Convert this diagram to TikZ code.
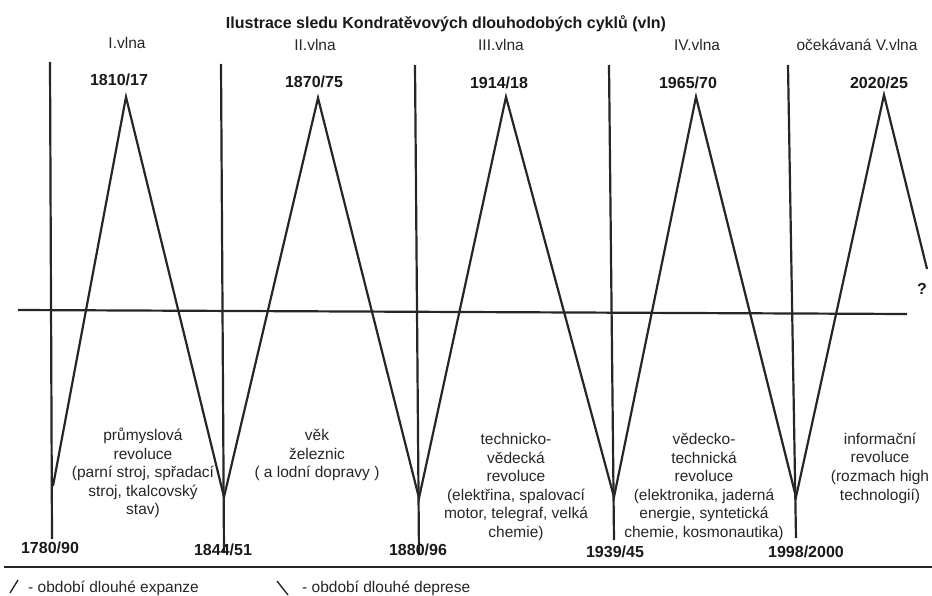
\documentclass[tikz,border=0pt]{standalone}
\usepackage{fontspec}
\setmainfont{Liberation Sans}
\begin{document}
\begin{tikzpicture}[x=1pt,y=-1pt,
    wline/.style={line width=2.2pt, black!85},
    revtext/.style={align=center, inner sep=0pt, text=black!85, font=\fontsize{15.5}{18.6}\selectfont},
    yeartext/.style={inner sep=0pt, text=black!90, font=\bfseries\fontsize{16}{19}\selectfont},
    wavetext/.style={inner sep=0pt, text=black!85, font=\fontsize{15.5}{18}\selectfont}]
    \useasboundingbox (0,0) rectangle (932,596);
    % Title
    \node[yeartext] (title) at (446,24) {Ilustrace sledu Kondratěvových dlouhodobých cyklů (vln)};
    % Turning points
    \coordinate (v1) at (53,486);
    \coordinate (p1) at (126,97);
    \coordinate (v2) at (224,497);
    \coordinate (p2) at (318,98);
    \coordinate (v3) at (419,498);
    \coordinate (p3) at (506,97);
    \coordinate (v4) at (614,497);
    \coordinate (p4) at (696,97);
    \coordinate (v5) at (796,497);
    \coordinate (p5) at (884,95);
    \coordinate (vend) at (927,269);
    % Zigzag
    \draw[wline] (v1) -- (p1) -- (v2) -- (p2) -- (v3) -- (p3) -- (v4) -- (p4) -- (v5) -- (p5) -- (vend);
    \node[yeartext] (qmark) at (922,289) {?};
    % Vertical dividers
    \coordinate (d1t) at (50,62);   \coordinate (d1b) at (52,539);
    \coordinate (d2t) at (221,64);  \coordinate (d2b) at (224,553);
    \coordinate (d3t) at (415,65);  \coordinate (d3b) at (419,555);
    \coordinate (d4t) at (609,65);  \coordinate (d4b) at (614,540);
    \coordinate (d5t) at (788,65);  \coordinate (d5b) at (796,538);
    \draw[wline] (d1t) -- (d1b);
    \draw[wline] (d2t) -- (d2b);
    \draw[wline] (d3t) -- (d3b);
    \draw[wline] (d4t) -- (d4b);
    \draw[wline] (d5t) -- (d5b);
    % Axis
    \coordinate (axl) at (18,310);
    \coordinate (axr) at (907,314);
    \draw[wline] (axl) -- (axr);
    % Wave names
    \node[wavetext] (w1) at (127,43) {I.vlna};
    \node[wavetext] (w2) at (315,45) {II.vlna};
    \node[wavetext] (w3) at (501,45) {III.vlna};
    \node[wavetext] (w4) at (697,45) {IV.vlna};
    \node[wavetext] (w5) at (857,45) {očekávaná V.vlna};
    % Peak years
    \node[yeartext] (y1) at (119,80) {1810/17};
    \node[yeartext] (y2) at (314,82) {1870/75};
    \node[yeartext] (y3) at (499,83) {1914/18};
    \node[yeartext] (y4) at (688,83) {1965/70};
    \node[yeartext] (y5) at (879,83) {2020/25};
    % Trough years
    \node[yeartext] (t1) at (50,548) {1780/90};
    \node[yeartext] (t2) at (223,550) {1844/51};
    \node[yeartext] (t3) at (418,550) {1880/96};
    \node[yeartext] (t4) at (615,552) {1939/45};
    \node[yeartext] (t5) at (806,552) {1998/2000};
    % Revolutions
    \node[revtext] (r1) at (143,473) {průmyslová\\revoluce\\(parní stroj, spřadací\\stroj, tkalcovský\\stav)};
    \node[revtext] (r2) at (317,455) {věk\\železnic\\( a lodní dopravy )};
    \node[revtext] (r3) at (516,487) {technicko-\\vědecká\\revoluce\\(elektřina, spalovací\\motor, telegraf, velká\\chemie)};
    \node[revtext] (r4) at (704,487) {vědecko-\\technická\\revoluce\\(elektronika, jaderná\\energie, syntetická\\chemie, kosmonautika)};
    \node[revtext] (r5) at (880,468) {informační\\revoluce\\(rozmach high\\technologií)};
    % Bottom rule
    \coordinate (rl) at (4,567);
    \coordinate (rr) at (932,567);
    \draw[line width=2.8pt, black!85] (rl) -- (rr);
    % Legend
    \coordinate (ea) at (10,593); \coordinate (eb) at (18,580);
    \coordinate (da) at (277,581); \coordinate (db) at (288,595);
    \draw[line width=1.4pt, black!85] (ea) -- (eb);
    \draw[line width=1.4pt, black!85] (da) -- (db);
    \node[wavetext, anchor=west] (le) at (28,588) {- období dlouhé expanze};
    \node[wavetext, anchor=west] (ld) at (302,588) {- období dlouhé deprese};
\end{tikzpicture}
\end{document}
